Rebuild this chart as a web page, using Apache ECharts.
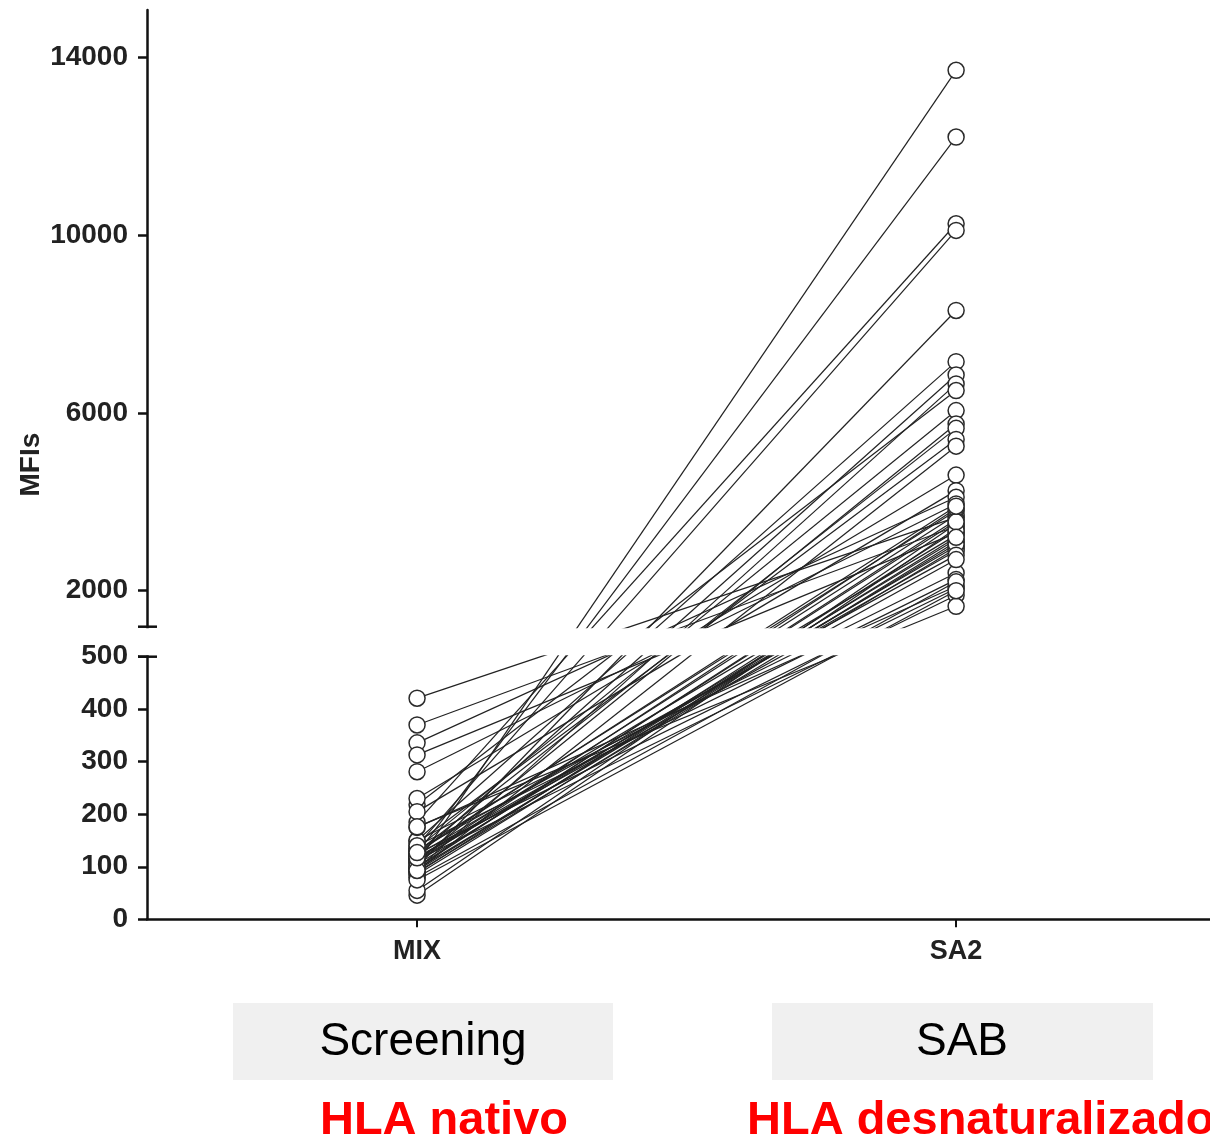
<!DOCTYPE html>
<html>
<head>
<meta charset="utf-8">
<script src="https://cdn.jsdelivr.net/npm/echarts@6/dist/echarts.min.js"></script>
<style>
  html, body { margin: 0; padding: 0; background: #fff; }
  #chart { width: 1210px; height: 1142px; }
</style>
</head>
<body>
<div id="chart"></div>
<script>
// data (MFI per antibody, paired MIX -> SA2)
const categories = ["MIX", "SA2"];
const mixValues = [
  107, 125, 185, 140, 100, 150, 120, 95, 218, 135, 110, 128, 145, 92, 230, 205,
  421, 370, 336, 313, 281,
  130, 115, 98, 46, 55, 122, 105, 85, 113, 90, 118, 88, 96, 108, 132,
  150, 140, 175, 125, 113, 176, 80, 75,
  100, 93, 117, 127
];
const sa2Values = [
  13700, 12200, 10250, 10100, 8300, 7150, 6850, 6650, 6500, 6050, 5750, 5650, 5400, 5250, 4600, 4250,
  3650, 3450, 4100, 3300, 3950,
  3800, 3700, 3600, 3400, 3500, 3250, 3150, 3100, 3000, 2950, 2900, 3350, 3050, 3850, 2800,
  2400, 2250, 2100, 2050, 1900, 1650, 2200, 2000,
  3550, 3200, 2700, 3900
];
const lowTicks = [0, 100, 200, 300, 400, 500];
const highTicks = [2000, 6000, 10000, 14000];

// broken axis: 0-500 on one scale, gap, then 1191+ on a compressed scale
const LOW_TOP = 500;
const LOW_SCALE = 0.5252;
const GAP = 30;
const HIGH_BASE = 1191;
const HIGH_SCALE = 0.04448;
const AXIS_MAX = 909.3;

function toAxis(v) {
  if (v <= LOW_TOP) return v * LOW_SCALE;
  return LOW_TOP * LOW_SCALE + GAP + (v - HIGH_BASE) * HIGH_SCALE;
}

const allTicks = lowTicks.concat(highTicks);
const tickPos = allTicks.map(toAxis);

const GRID_LEFT = 147;
const font = '"Liberation Sans", Arial, sans-serif';
const chart = echarts.init(document.getElementById("chart"));

const lineSeries = mixValues.map((m, i) => ({
  type: "line",
  data: [[0, toAxis(m)], [1, toAxis(sa2Values[i])]],
  symbol: "none",
  silent: true,
  z: 2,
  lineStyle: { color: "#222", width: 1.2 }
}));

const points = [];
mixValues.forEach(v => points.push([0, toAxis(v)]));
sa2Values.forEach(v => points.push([1, toAxis(v)]));

chart.setOption({
  animation: false,
  backgroundColor: "#fff",
  grid: { left: GRID_LEFT, top: 10, right: 0, height: AXIS_MAX },
  xAxis: {
    type: "value",
    min: -0.501,
    max: 1.471,
    splitLine: { show: false },
    axisLine: { onZero: false, lineStyle: { color: "#111", width: 2.5 } },
    axisTick: { show: true, length: 8, customValues: [0, 1], lineStyle: { color: "#111", width: 2 } },
    axisLabel: {
      customValues: [0, 1],
      formatter: val => categories[Math.round(val)],
      color: "#222", fontSize: 27, fontWeight: "bold", fontFamily: font, margin: 19
    }
  },
  yAxis: {
    type: "value",
    min: 0,
    max: AXIS_MAX,
    name: "MFIs",
    nameLocation: "middle",
    nameRotate: 90,
    nameGap: 102,
    nameMoveOverlap: false,
    nameTextStyle: { color: "#222", fontSize: 28, fontWeight: "bold", fontFamily: font },
    splitLine: { show: false },
    axisLine: { show: true, onZero: false, lineStyle: { color: "#111", width: 2.5 } },
    axisTick: { show: true, length: 9, customValues: tickPos, lineStyle: { color: "#111", width: 2.5 } },
    axisLabel: {
      customValues: tickPos,
      color: "#222",
      fontSize: 28,
      fontWeight: "bold",
      fontFamily: font,
      margin: 19,
      formatter: val => {
        let best = 0;
        tickPos.forEach((p, i) => { if (Math.abs(p - val) < Math.abs(tickPos[best] - val)) best = i; });
        return String(allTicks[best]);
      }
    }
  },
  series: lineSeries.concat([{
    type: "scatter",
    data: points,
    symbol: "circle",
    symbolSize: 16,
    silent: true,
    z: 3,
    itemStyle: { color: "#fff", borderColor: "#2a2a2a", borderWidth: 1.5, opacity: 1 }
  }])
});

// white band over the axis break, plus the break caps on the y axis
const yHi = chart.convertToPixel({ yAxisIndex: 0 }, toAxis(HIGH_BASE));
const yLo = chart.convertToPixel({ yAxisIndex: 0 }, toAxis(LOW_TOP));

chart.setOption({
  graphic: [
    { type: "rect", z: 50, shape: { x: GRID_LEFT - 8, y: yHi + 1.5, width: 1210, height: yLo - yHi - 3 }, style: { fill: "#fff" } },
    { type: "line", z: 60, shape: { x1: GRID_LEFT - 9, y1: yHi, x2: GRID_LEFT + 10, y2: yHi }, style: { stroke: "#111", lineWidth: 2.5 } },
    { type: "line", z: 60, shape: { x1: GRID_LEFT - 9, y1: yLo, x2: GRID_LEFT + 10, y2: yLo }, style: { stroke: "#111", lineWidth: 2.5 } },
    { type: "rect", z: 50, shape: { x: 233, y: 1003, width: 380, height: 77 }, style: { fill: "#f0f0f0" } },
    { type: "rect", z: 50, shape: { x: 772, y: 1003, width: 381, height: 77 }, style: { fill: "#f0f0f0" } },
    { type: "text", z: 60, style: { x: 423, y: 1042, text: "Screening", fill: "#000", font: "46px " + font, textAlign: "center", textVerticalAlign: "middle" } },
    { type: "text", z: 60, style: { x: 962, y: 1042, text: "SAB", fill: "#000", font: "46px " + font, textAlign: "center", textVerticalAlign: "middle" } },
    { type: "text", z: 60, style: { x: 444, y: 1121, text: "HLA nativo", fill: "#ff0000", font: "bold 47px " + font, textAlign: "center", textVerticalAlign: "middle" } },
    { type: "text", z: 60, style: { x: 747, y: 1121, text: "HLA desnaturalizado", fill: "#ff0000", font: "bold 47px " + font, textAlign: "left", textVerticalAlign: "middle" } }
  ]
});
</script>
</body>
</html>
